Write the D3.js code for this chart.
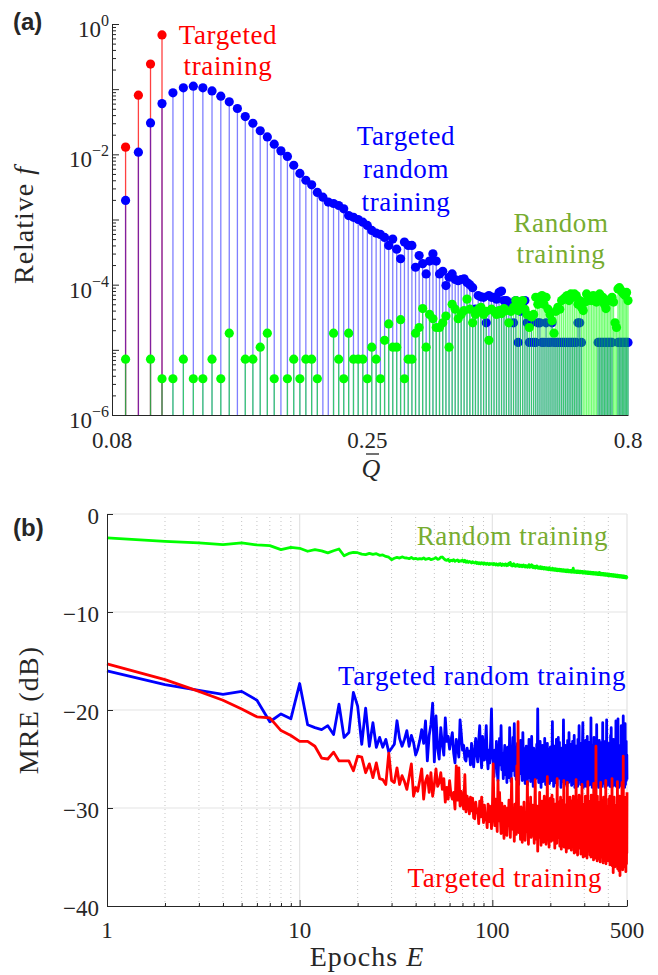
<!DOCTYPE html>
<html>
<head>
<meta charset="utf-8">
<script src="https://cdn.jsdelivr.net/npm/d3@7"></script>
<style>
  body { margin:0; background:#fff; }
  svg text { font-family:"Liberation Serif","Times New Roman",serif; fill:#262626; }
</style>
</head>
<body>
<svg id="chart" width="658" height="975"></svg>
<script>
/* ---------- (a) histogram of Q-bar, three training sets ---------- */
const qBins = [
  0.085,0.090,0.095,0.100,0.105,0.110,0.115,0.120,0.125,0.130,
  0.135,0.140,0.145,0.150,0.155,0.160,0.165,0.170,0.175,0.180,
  0.185,0.190,0.195,0.200,0.205,0.210,0.215,0.220,0.225,0.230,
  0.235,0.240,0.245,0.250,0.255,0.260,0.265,0.270,0.275,0.280,
  0.285,0.290,0.295,0.300,0.305,0.310,0.315,0.320,0.325,0.330,
  0.335,0.340,0.345,0.350,0.355,0.360,0.365,0.370,0.375,0.380,
  0.385,0.390,0.395,0.400,0.405,0.410,0.415,0.420,0.425,0.430,
  0.435,0.440,0.445,0.450,0.455,0.460,0.465,0.470,0.475,0.480,
  0.485,0.490,0.495,0.500,0.505,0.510,0.515,0.520,0.525,0.530,
  0.535,0.540,0.545,0.550,0.555,0.560,0.565,0.570,0.575,0.580,
  0.585,0.590,0.595,0.600,0.605,0.610,0.615,0.620,0.625,0.630,
  0.635,0.640,0.645,0.650,0.655,0.660,0.665,0.670,0.675,0.680,
  0.685,0.690,0.695,0.700,0.705,0.710,0.715,0.720,0.725,0.730,
  0.735,0.740,0.745,0.750,0.755,0.760,0.765,0.770,0.775,0.780,
  0.785,0.790,0.795,0.800
];

// targeted training: only the first four bins are populated
const fTargeted = [0.0129, 0.081, 0.243, 0.68];

const fTargetedRandom = [
  1.96e-3,1.08e-2,3.03e-2,6.0e-2,8.8e-2,0.105,0.111,0.105,0.094,0.078,
  0.064,0.0505,0.038,0.030,0.023,0.0185,0.0143,0.0113,0.0093,0.0068,
  5.1e-3,4.0e-3,3.4e-3,2.6e-3,2.2e-3,1.85e-3,1.76e-3,1.64e-3,1.46e-3,1.15e-3,
  1.08e-3,1.0e-3,9.1e-4,8.1e-4,6.8e-4,6.2e-4,5.9e-4,5.3e-4,4.0e-4,5.0e-4,
  3.5e-4,2.5e-4,4.5e-4,4.0e-4,4.0e-4,1.85e-4,2.8e-4,2.1e-4,1.46e-4,2.3e-4,
  2.97e-4,2.3e-4,1.46e-4,1.6e-4,9.7e-5,1.3e-4,1.46e-4,1.2e-4,1.15e-4,1.2e-4,
  1.23e-4,1.08e-4,1.0e-4,9.0e-5,4.2e-5,6.8e-5,6.5e-5,6.4e-5,2.6e-5,6.8e-5,
  6.4e-5,6.4e-5,6.0e-5,7.6e-5,8.0e-5,5.7e-5,5.7e-5,5.2e-5,5.2e-5,2.6e-5,
  5.7e-5,1.3e-5,3.9e-5,5.2e-5,5.7e-5,2.6e-5,1.3e-5,2.6e-5,1.3e-5,1.3e-5,
  2.6e-5,2.6e-5,1.3e-5,1.3e-5,2.6e-5,1.3e-5,1.3e-5,2.6e-5,1.3e-5,1.3e-5,
  1.3e-5,1.3e-5,1.3e-5,1.3e-5,1.3e-5,1.3e-5,1.3e-5,1.3e-5,1.3e-5,1.3e-5,
  1.3e-5,2.6e-5,2.6e-5,1.3e-5,null,null,null,null,null,null,
  null,null,null,1.3e-5,1.3e-5,1.3e-5,1.3e-5,1.3e-5,1.3e-5,1.3e-5,
  1.3e-5,1.3e-5,1.3e-5,null,null,null,1.3e-5,1.3e-5,1.3e-5,1.3e-5,
  1.3e-5,1.3e-5,1.3e-5,1.3e-5
];

const fRandom = [
  7.2e-6,null,7.2e-6,3.6e-6,3.6e-6,7.2e-6,3.6e-6,3.6e-6,7.2e-6,3.6e-6,
  1.8e-5,null,7.2e-6,7.2e-6,1.1e-5,1.8e-5,3.6e-6,null,3.6e-6,7.2e-6,
  3.6e-6,7.2e-6,7.2e-6,3.6e-6,null,null,1.8e-5,7.2e-6,3.6e-6,1.8e-5,
  7.2e-6,7.2e-6,7.2e-6,3.6e-6,1.1e-5,7.2e-6,3.6e-6,1.4e-5,2.5e-5,1.1e-5,
  1.1e-5,2.9e-5,3.6e-6,7.2e-6,7.2e-6,1.8e-5,2.2e-5,4.3e-5,1.1e-5,3.5e-5,
  3.0e-5,2.2e-5,2.2e-5,2.6e-5,3.3e-5,1.1e-5,5.0e-5,4.2e-5,3.0e-5,3.5e-5,
  4.0e-5,6.0e-5,4.2e-5,2.6e-5,3.5e-5,4.2e-5,4.5e-5,3.5e-5,3.9e-5,1.4e-5,
  4.2e-5,3.9e-5,3.5e-5,4.0e-5,3.6e-5,4.3e-5,4.0e-5,2.6e-5,3.9e-5,4.5e-5,
  5.7e-5,4.0e-5,5.0e-5,5.7e-5,4.2e-5,3.5e-5,2.2e-5,3.2e-5,3.5e-5,6.4e-5,
  5.0e-5,6.4e-5,6.8e-5,5.0e-5,6.4e-5,4.2e-5,3.5e-5,2.8e-5,1.8e-5,3.9e-5,
  4.5e-5,4.2e-5,5.7e-5,6.0e-5,6.4e-5,6.8e-5,5.7e-5,7.2e-5,6.4e-5,7.2e-5,
  6.8e-5,5.0e-5,5.7e-5,4.5e-5,4.0e-5,5.4e-5,7.2e-5,5.7e-5,6.4e-5,5.7e-5,
  6.8e-5,6.0e-5,5.4e-5,6.8e-5,7.2e-5,6.4e-5,6.4e-5,5.0e-5,4.3e-5,5.7e-5,
  5.7e-5,6.0e-5,6.4e-5,5.4e-5,2.6e-5,2.2e-5,8.6e-5,9.0e-5,8.2e-5,7.6e-5,
  7.2e-5,6.8e-5,7.6e-5,5.7e-5
];

const fTickExps  = [0,-2,-4,-6];
const qTickVals  = [0.08, 0.25, 0.8];

/* ---------- (b) MRE (dB) per epoch, epochs 1..500 ---------- */
const mreRandom = [
  -2.44,-2.79,-2.95,-3.13,-2.95,-3.16,-3.23,-3.63,-3.40,-3.50,-3.80,-3.63,-3.77,-3.97,-3.75,-3.57,-4.26,-4.02,-3.92,-3.95,
  -4.10,-4.15,-4.02,-4.12,-4.05,-4.22,-4.18,-4.33,-4.41,-4.66,-4.52,-4.43,-4.50,-4.38,-4.47,-4.49,-4.56,-4.44,-4.58,-4.52,
  -4.61,-4.55,-4.59,-4.48,-4.63,-4.57,-4.52,-4.66,-4.60,-4.54,-4.45,-4.62,-4.58,-4.41,-4.39,-4.55,-4.68,-4.74,-4.62,-4.84,
  -4.71,-4.78,-4.66,-4.82,-4.75,-4.69,-4.86,-4.77,-4.81,-4.70,-4.88,-4.73,-4.92,-4.80,-4.95,-4.84,-4.90,-5.01,-4.87,-4.97,
  -5.00,-4.89,-5.05,-4.94,-5.08,-4.98,-5.10,-4.96,-5.03,-5.12,-4.99,-5.06,-5.14,-5.02,-5.09,-5.16,-5.04,-5.13,-5.07,-5.07,
  -5.18,-5.05,-5.12,-5.20,-5.08,-5.15,-5.23,-5.10,-5.19,-5.06,-5.17,-5.26,-5.11,-5.21,-5.14,-5.24,-5.09,-5.18,-5.27,-5.13,
  -5.22,-5.03,-5.16,-4.94,-5.25,-5.12,-5.30,-5.19,-5.08,-5.28,-5.17,-5.33,-5.21,-5.28,-5.15,-5.31,-5.24,-5.36,-5.20,-5.29,
  -5.34,-5.22,-5.38,-5.27,-5.19,-5.35,-5.30,-5.41,-5.25,-5.37,-5.31,-5.43,-5.28,-5.39,-5.17,-5.44,-5.33,-5.40,-5.29,-5.17,
  -5.42,-5.35,-5.48,-5.31,-5.45,-5.38,-5.52,-5.36,-5.47,-5.29,-5.50,-5.41,-5.55,-5.39,-5.49,-5.44,-5.57,-5.37,-5.52,-5.46,
  -5.58,-5.42,-5.54,-5.49,-5.61,-5.45,-5.56,-5.51,-5.63,-5.47,-5.59,-5.53,-5.66,-5.50,-5.62,-5.55,-5.69,-5.48,-5.64,-5.68,
  -5.58,-5.71,-5.60,-5.66,-5.53,-5.73,-5.62,-5.68,-5.57,-5.75,-5.64,-5.70,-5.59,-5.77,-5.66,-5.72,-5.61,-5.79,-5.67,-5.68,
  -5.74,-5.63,-5.80,-5.69,-5.76,-5.65,-5.82,-5.71,-5.78,-5.66,-5.84,-5.73,-5.79,-5.68,-5.86,-5.74,-5.81,-5.70,-5.87,-5.76,
  -5.83,-5.72,-5.89,-5.77,-5.84,-5.71,-5.90,-5.79,-5.85,-5.74,-5.91,-5.80,-5.87,-5.75,-5.93,-5.82,-5.88,-5.77,-5.94,-5.83,
  -5.89,-5.64,-5.52,-5.78,-5.95,-5.84,-5.90,-5.79,-5.96,-5.85,-5.91,-5.80,-5.97,-5.86,-5.92,-5.81,-5.98,-5.87,-5.93,-5.82,
  -5.99,-5.88,-5.94,-5.83,-6.00,-5.89,-5.95,-5.84,-5.85,-5.90,-5.96,-5.86,-6.02,-5.91,-5.97,-5.87,-6.03,-5.92,-5.98,-5.88,
  -6.04,-5.93,-5.99,-5.89,-6.05,-5.94,-6.00,-5.90,-6.06,-5.95,-6.01,-5.91,-6.07,-5.96,-6.02,-5.92,-6.08,-5.97,-6.03,-5.93,
  -6.09,-5.98,-6.04,-5.94,-6.10,-5.99,-6.05,-5.95,-6.11,-6.00,-6.06,-5.96,-6.12,-6.01,-6.07,-5.97,-6.13,-6.02,-6.08,-5.98,
  -6.14,-6.03,-6.09,-5.99,-6.15,-6.04,-6.10,-6.00,-6.16,-6.05,-6.11,-6.01,-6.17,-6.06,-6.12,-6.02,-6.18,-6.07,-6.13,-5.96,
  -6.19,-6.08,-6.14,-6.04,-6.20,-6.09,-6.15,-6.05,-6.21,-6.10,-6.16,-6.06,-6.22,-6.11,-6.17,-6.07,-6.23,-6.12,-6.18,-6.08,
  -6.24,-6.13,-6.19,-6.09,-6.25,-6.14,-6.20,-6.10,-6.26,-6.15,-6.21,-6.11,-6.27,-6.16,-6.22,-6.12,-6.28,-6.17,-6.23,-6.13,
  -6.29,-6.18,-6.24,-6.14,-6.30,-6.19,-6.25,-6.15,-6.31,-6.20,-6.26,-6.16,-6.32,-6.21,-6.27,-6.17,-6.33,-6.22,-6.28,-6.18,
  -6.34,-6.23,-6.29,-6.19,-6.35,-6.24,-6.30,-6.20,-6.36,-6.25,-6.31,-6.21,-6.37,-6.26,-6.32,-6.22,-6.38,-6.27,-6.33,-6.23,
  -6.39,-6.28,-6.34,-6.24,-6.40,-6.29,-6.35,-6.25,-6.41,-6.30,-6.36,-6.26,-6.42,-6.31,-6.37,-6.27,-6.43,-6.32,-6.38,-6.28,
  -6.44,-6.33,-6.39,-6.29,-6.45,-6.34,-6.40,-6.30,-6.46,-6.35,-6.41,-6.31,-6.47,-6.36,-6.42,-6.32,-6.48,-6.37,-6.43,-6.33,
  -6.49,-6.38,-6.44,-6.34,-6.50,-6.39,-6.45,-6.35,-6.51,-6.40,-6.46,-6.36,-6.52,-6.41,-6.47,-6.37,-6.53,-6.42,-6.48,-6.42
];

const mreTargetedRandom = [
  -16.0,-17.4,-18.0,-18.4,-18.1,-19.0,-21.2,-20.4,-20.9,-17.3,-21.5,-21.8,-22.0,-21.6,-22.5,-19.4,-22.8,-22.3,-18.2,-19.6,
  -23.5,-19.8,-23.7,-21.3,-23.8,-22.8,-23.8,-23.0,-24.3,-23.9,-23.5,-21.1,-22.9,-23.7,-23.0,-22.1,-23.7,-22.6,-23.3,-24.6,
  -24.0,-23.1,-22.0,-23.4,-21.1,-25.2,-22.6,-21.5,-19.3,-25.3,-20.6,-23.9,-25.0,-21.8,-23.5,-24.6,-20.8,-23.2,-22.7,-24.0,
  -23.1,-22.3,-24.4,-25.4,-23.0,-23.7,-24.8,-21.0,-22.4,-24.1,-23.6,-25.0,-25.2,-23.9,-24.7,-24.2,-25.6,-23.4,-24.9,-25.8,
  -24.0,-22.9,-24.5,-25.3,-23.1,-21.6,-24.6,-25.9,-22.7,-24.3,-25.1,-23.5,-21.6,-24.8,-26.0,-24.1,-25.4,-23.0,-19.9,-24.6,
  -25.3,-26.8,-24.1,-25.9,-23.2,-26.4,-27.2,-24.8,-22.9,-25.6,-21.6,-26.1,-24.4,-27.0,-25.2,-23.6,-26.6,-24.9,-27.4,-23.8,
  -25.7,-26.9,-21.8,-25.1,-27.3,-24.5,-26.2,-22.8,-25.8,-21.4,-26.7,-24.3,-27.1,-25.5,-23.4,-26.3,-27.6,-24.7,-25.9,-23.1,
  -26.5,-24.9,-27.2,-22.3,-25.4,-26.8,-24.0,-27.5,-25.0,-23.7,-26.1,-27.7,-24.6,-25.8,-23.0,-26.9,-24.2,-27.3,-25.6,-22.7,
  -26.4,-25.1,-27.8,-23.9,-25.7,-26.6,-24.4,-27.0,-25.3,-23.5,-26.2,-19.9,-25.9,-27.4,-24.1,-26.7,-23.2,-25.5,-27.9,-24.8,
  -26.0,-23.6,-27.3,-25.2,-24.5,-26.8,-22.9,-25.7,-27.6,-24.3,-26.4,-25.0,-23.4,-27.1,-25.8,-24.0,-26.9,-27.5,-25.7,-23.8,
  -26.3,-24.7,-27.2,-25.4,-21.2,-26.6,-24.1,-27.8,-25.0,-23.7,-26.2,-27.4,-24.8,-25.9,-23.0,-26.7,-27.7,-24.4,-25.6,-22.8,
  -26.5,-25.1,-23.3,-27.0,-24.6,-26.1,-27.9,-25.3,-23.9,-26.8,-24.2,-27.3,-25.7,-21.0,-26.4,-27.6,-24.9,-25.5,-23.6,-27.1,
  -25.8,-24.3,-26.9,-27.8,-25.0,-23.1,-26.3,-24.7,-27.4,-22.3,-25.9,-26.6,-24.0,-27.2,-25.4,-23.5,-26.8,-27.7,-24.5,-25.2,
  -23.2,-26.7,-27.5,-24.8,-25.6,-22.6,-26.2,-27.9,-25.1,-24.1,-26.9,-23.7,-27.3,-25.5,-24.4,-26.4,-27.8,-23.0,-25.8,-26.6,
  -24.2,-21.6,-27.1,-25.3,-26.5,-24.7,-27.6,-23.4,-25.9,-26.8,-24.0,-27.4,-25.2,-22.9,-21.3,-26.3,-27.9,-24.6,-25.7,-23.8,
  -26.9,-27.5,-24.3,-25.6,-23.1,-26.6,-27.8,-25.0,-24.5,-26.1,-22.7,-27.2,-25.4,-23.9,-26.7,-27.7,-24.8,-25.3,-23.3,-26.4,
  -27.6,-24.1,-25.8,-26.9,-20.8,-27.3,-25.1,-24.4,-26.5,-27.9,-23.6,-25.7,-26.8,-24.0,-27.4,-25.5,-22.8,-26.2,-27.8,-24.7,
  -25.9,-23.4,-26.7,-27.5,-24.3,-25.2,-26.4,-21.5,-27.1,-25.6,-24.9,-27.7,-23.8,-26.3,-25.0,-27.9,-24.2,-25.8,-23.1,-26.6,
  -27.4,-24.6,-25.4,-26.9,-23.5,-27.6,-25.1,-24.0,-23.3,-26.5,-27.8,-24.8,-25.7,-21.3,-26.2,-27.3,-24.4,-25.9,-26.8,-23.7,
  -27.5,-25.3,-24.1,-26.6,-27.9,-23.2,-25.6,-26.3,-24.7,-27.2,-25.0,-21.0,-26.8,-27.7,-24.5,-25.8,-23.6,-26.4,-27.4,-24.2,
  -25.5,-26.9,-23.4,-27.6,-25.2,-24.3,-26.7,-27.8,-24.9,-25.4,-22.6,-26.1,-27.3,-21.8,-25.7,-26.5,-24.0,-27.9,-25.1,-23.8,
  -26.6,-27.4,-24.6,-25.3,-23.0,-26.8,-27.7,-25.0,-24.4,-26.2,-27.5,-23.5,-25.9,-26.7,-24.1,-27.2,-25.6,-21.1,-26.4,-27.8,
  -24.7,-25.5,-23.3,-26.9,-27.6,-24.2,-25.8,-26.3,-20.9,-27.3,-25.2,-24.8,-26.6,-27.9,-23.9,-25.4,-26.8,-24.5,-27.1,-25.7,
  -23.6,-26.5,-27.7,-24.0,-25.9,-26.2,-21.6,-27.4,-25.3,-24.6,-26.9,-27.8,-23.4,-25.6,-26.4,-24.3,-27.5,-20.6,-25.8,-26.7,
  -24.1,-27.3,-25.5,-23.7,-26.8,-27.9,-24.9,-25.1,-21.4,-26.5,-27.6,-24.4,-25.7,-26.3,-23.2,-27.2,-25.0,-26.9,-24.6,-27.1
];

const mreTargeted = [
  -15.3,-16.9,-18.1,-19.0,-19.9,-20.7,-20.8,-22.1,-22.6,-23.2,-23.2,-23.7,-24.9,-25.0,-24.3,-25.2,-25.2,-25.2,-26.2,-24.7,
  -24.8,-26.4,-25.5,-26.9,-25.4,-27.0,-27.1,-27.6,-24.4,-27.2,-27.4,-25.9,-27.6,-26.7,-27.3,-28.1,-26.8,-25.5,-28.8,-27.9,
  -28.3,-27.2,-26.0,-29.1,-27.3,-26.7,-28.4,-26.4,-28.8,-27.6,-26.0,-27.8,-27.4,-26.4,-28.1,-27.0,-29.4,-27.9,-29.1,-27.2,
  -28.6,-29.1,-28.4,-30.1,-25.7,-29.2,-25.9,-29.8,-28.3,-29.5,-30.1,-26.6,-30.4,-28.8,-29.4,-30.6,-28.9,-30.3,-29.0,-31.0,
  -31.1,-29.4,-30.5,-30.1,-31.6,-29.3,-30.9,-28.9,-30.2,-31.5,-29.7,-31.2,-30.8,-32.0,-29.6,-31.4,-29.8,-30.7,-32.1,-30.3,
  -25.5,-30.2,-31.8,-29.1,-30.8,-32.4,-27.2,-31.3,-28.4,-30.9,-32.6,-29.5,-31.0,-31.5,-33.1,-29.8,-30.6,-32.2,-32.8,-30.0,
  -31.7,-29.2,-31.1,-33.0,-30.4,-27.0,-31.9,-32.2,-30.7,-33.4,-29.6,-31.4,-32.7,-25.7,-30.3,-21.2,-32.5,-31.0,-30.1,-33.2,
  -29.9,-31.6,-33.5,-30.2,-32.8,-29.4,-31.8,-33.3,-30.6,-30.8,-32.4,-27.3,-31.5,-33.7,-30.0,-32.2,-31.2,-28.9,-33.0,-30.5,
  -32.1,-29.7,-32.8,-31.4,-33.6,-30.3,-27.1,-32.5,-31.0,-33.2,-29.8,-34.4,-31.6,-30.1,-33.0,-28.4,-32.3,-31.7,-33.8,-30.4,
  -29.3,-32.6,-31.1,-33.5,-30.0,-28.8,-32.9,-31.3,-29.5,-33.7,-32.8,-30.6,-26.8,-33.1,-31.5,-29.9,-34.0,-30.8,-32.4,-29.0,
  -31.9,-33.4,-30.2,-28.7,-32.6,-31.0,-29.1,-33.3,-30.7,-32.0,-34.1,-29.6,-31.4,-32.2,-30.3,-33.6,-27.0,-31.8,-33.0,-30.1,
  -32.7,-29.4,-30.8,-33.9,-31.2,-28.9,-32.5,-34.2,-30.5,-31.7,-29.2,-33.9,-31.0,-32.9,-27.2,-34.0,-30.9,-32.3,-33.5,-29.7,
  -31.5,-34.5,-30.4,-32.8,-27.4,-33.6,-31.1,-29.8,-34.1,-33.5,-30.2,-32.6,-28.9,-33.8,-31.4,-30.0,-34.3,-29.3,-32.1,-32.2,
  -30.6,-33.7,-28.8,-32.9,-31.3,-34.6,-29.5,-32.4,-30.1,-33.2,-34.5,-27.1,-31.8,-33.4,-30.7,-32.0,-34.8,-29.2,-31.6,-33.9,
  -30.3,-28.7,-34.1,-32.5,-31.0,-33.6,-29.4,-34.7,-30.8,-32.8,-31.5,-27.6,-33.9,-32.2,-30.4,-35.0,-29.6,-33.1,-31.9,-34.3,
  -34.9,-30.5,-32.7,-28.8,-33.8,-31.3,-34.6,-29.9,-32.4,-35.1,-30.2,-33.5,-27.3,-32.9,-34.4,-31.1,-29.7,-33.7,-30.9,-32.2,
  -34.8,-29.3,-32.6,-31.4,-35.0,-28.7,-33.3,-30.6,-34.5,-31.8,-29.1,-34.2,-32.0,-30.4,-35.3,-27.5,-33.6,-31.2,-34.7,-30.0,
  -32.8,-35.1,-29.5,-33.9,-23.7,-31.6,-34.4,-30.3,-32.7,-35.4,-28.8,-33.4,-31.0,-34.9,-29.7,-32.5,-35.2,-30.8,-33.1,-34.9,
  -29.4,-32.9,-35.5,-31.3,-27.4,-34.3,-32.1,-30.5,-35.0,-33.2,-29.2,-34.8,-31.7,-33.5,-30.1,-35.6,-32.4,-28.9,-34.1,-31.5,
  -33.8,-30.6,-35.3,-29.5,-32.7,-34.6,-31.0,-27.2,-35.7,-33.0,-30.3,-34.4,-32.2,-29.8,-35.1,-31.6,-33.9,-35.2,-30.0,-32.8,
  -35.4,-29.1,-33.5,-31.9,-34.9,-30.7,-28.8,-35.8,-32.3,-34.1,-29.6,-33.2,-35.5,-31.4,-30.2,-34.7,-32.6,-27.0,-35.9,-33.0,
  -30.9,-34.5,-32.1,-36.6,-29.4,-33.7,-31.2,-35.3,-28.9,-34.2,-32.8,-30.4,-36.0,-33.3,-29.7,-35.1,-31.5,-34.6,-30.6,-33.5,
  -35.7,-29.8,-32.4,-34.9,-31.1,-27.3,-36.2,-33.1,-30.5,-35.4,-32.0,-29.3,-34.7,-36.4,-31.7,-33.6,-28.8,-35.2,-32.6,-36.9,
  -30.2,-34.4,-31.8,-35.8,-29.5,-33.2,-36.1,-30.9,-34.6,-32.3,-27.4,-35.5,-33.0,-30.6,-36.3,-32.1,-34.9,-24.7,-31.4,-35.6,
  -33.4,-29.9,-36.0,-31.7,-34.1,-28.9,-35.4,-32.5,-30.3,-35.9,-33.6,-29.4,-36.5,-31.9,-34.3,-30.8,-35.7,-32.8,-34.6,-28.4
];

const mreTicks    = [-40,-30,-20,-10,0];
const epochTicks  = [1,10,100,500];
const epochMinor  = [2,3,4,5,6,7,8,9,20,30,40,50,60,70,80,90,200,300,400];

const RED = "#ff0000", BLUE = "#0000ff", GREEN = "#00ff00", OLIVE = "#77ac30", AX = "#262626";

const svg = d3.select("#chart");

/*────────── (a) stem plot ──────────*/
const xa = d3.scaleLog().domain([0.08, 0.8]).range([112, 628]);
const ya = d3.scaleLog().domain([1e-6, 1]).range([415, 24]);
const gA = svg.append("g");

function stems(vals, color, stemOpacity){
  const pts = vals.map((v,i)=>({q:qBins[i], v})).filter(d=>d.v!=null);
  gA.append("g").selectAll("line").data(pts).join("line")
    .attr("x1",d=>xa(d.q)).attr("x2",d=>xa(d.q))
    .attr("y1",ya.range()[0]).attr("y2",d=>ya(d.v))
    .attr("stroke",color).attr("stroke-width",1.3).attr("stroke-opacity",stemOpacity);
  gA.append("g").selectAll("circle").data(pts).join("circle")
    .attr("cx",d=>xa(d.q)).attr("cy",d=>ya(d.v)).attr("r",4.6)
    .attr("fill",color);
}
stems(fTargeted, RED, 0.75);
stems(fTargetedRandom, BLUE, 0.5);
stems(fRandom, GREEN, 0.55);

// axes (a)
const decades = d3.range(-6, 1).map(e => Math.pow(10, e));
const minorA  = decades.slice(0, -1).flatMap(d => d3.range(2, 10).map(k => k * d));
const axA = svg.append("g").attr("transform", `translate(${xa.range()[0]},0)`);
axA.call(d3.axisLeft(ya).tickValues(decades).tickSize(-7).tickSizeOuter(0).tickFormat(""));
axA.append("g").call(d3.axisLeft(ya).tickValues(minorA).tickSize(-4).tickSizeOuter(0).tickFormat(""))
   .select(".domain").remove();
svg.append("g").attr("transform", `translate(0,${ya.range()[0]})`)
   .call(d3.axisBottom(xa).tickValues(qTickVals).tickSize(0).tickSizeOuter(0).tickFormat(""));

fTickExps.forEach(e => {
  const t = svg.append("text").attr("x", xa.range()[0] - 3).attr("y", ya(Math.pow(10,e)) + 13)
    .attr("text-anchor","end").attr("font-size",23);
  t.append("tspan").text("10");
  t.append("tspan").attr("dy",-11).attr("font-size",16).text(e === 0 ? "0" : "\u2212" + (-e));
});
qTickVals.forEach(q => {
  svg.append("text").attr("x", xa(q)).attr("y", 448).attr("text-anchor","middle")
    .attr("font-size",23).text(q);
});

// axis titles (a): Q with an overbar
svg.append("text").attr("x", 371).attr("y", 477).attr("text-anchor","middle")
  .attr("font-size",26).attr("font-style","italic").text("Q");
svg.append("line").attr("x1",366).attr("x2",379).attr("y1",454).attr("y2",454)
  .attr("stroke",AX).attr("stroke-width",1.3);
const yLabA = svg.append("text").attr("transform","translate(33,225) rotate(-90)")
  .attr("text-anchor","middle").attr("font-size",28).attr("letter-spacing",1);
yLabA.append("tspan").text("Relative ");
yLabA.append("tspan").attr("font-style","italic").text("f");

// annotations
function label(lines, x, y0, dy, color, anchor){
  lines.forEach((s,k)=> svg.append("text").attr("x",x).attr("y",y0 + k*dy)
    .attr("text-anchor",anchor).attr("font-size",27).attr("letter-spacing",0.6)
    .style("fill",color).text(s));
}
label(["Targeted","training"], 228, 44, 31, RED, "middle");
label(["Targeted","random","training"], 406, 145, 33, BLUE, "middle");
label(["Random","training"], 561, 232, 31, OLIVE, "middle");

svg.append("text").attr("x",13).attr("y",30).attr("font-size",24).attr("font-weight","bold")
  .style("font-family","'Liberation Sans',Arial,sans-serif").text("(a)");

/*────────── (b) MRE vs epochs ──────────*/
const xb = d3.scaleLog().domain([1, 500]).range([107, 627]);
const yb = d3.scaleLinear().domain([-40, 0]).range([906, 514]);
const gB = svg.append("g");

// grid
gB.append("g").selectAll("line").data(epochMinor).join("line")
  .attr("x1",d=>xb(d)).attr("x2",d=>xb(d)).attr("y1",yb.range()[0]).attr("y2",yb.range()[1])
  .attr("stroke","#c4c4c4").attr("stroke-width",1).attr("stroke-dasharray","1,3");
gB.append("g").selectAll("line").data(epochTicks.slice(1)).join("line")
  .attr("x1",d=>xb(d)).attr("x2",d=>xb(d)).attr("y1",yb.range()[0]).attr("y2",yb.range()[1])
  .attr("stroke","#e3e3e3").attr("stroke-width",1.2);
gB.append("g").selectAll("line").data(mreTicks.slice(1)).join("line")
  .attr("x1",xb.range()[0]).attr("x2",xb.range()[1]).attr("y1",d=>yb(d)).attr("y2",d=>yb(d))
  .attr("stroke","#e3e3e3").attr("stroke-width",1.2);

// curves
const line = d3.line().x((d,i)=>xb(i+1)).y(d=>yb(d));
[[mreRandom, GREEN],[mreTargetedRandom, BLUE],[mreTargeted, RED]].forEach(([s,c]) => {
  gB.append("path").datum(s).attr("d",line).attr("fill","none")
    .attr("stroke",c).attr("stroke-width",2.8).attr("stroke-linejoin","round");
});

// axes (b)
svg.append("g").attr("transform",`translate(${xb.range()[0]},0)`)
  .call(d3.axisLeft(yb).tickValues(mreTicks).tickSize(-6).tickSizeOuter(0).tickFormat(""));
const axB = svg.append("g").attr("transform",`translate(0,${yb.range()[0]})`);
axB.call(d3.axisBottom(xb).tickValues(epochTicks).tickSize(-6).tickSizeOuter(0).tickFormat(""));
axB.append("g").call(d3.axisBottom(xb).tickValues(epochMinor).tickSize(-3).tickSizeOuter(0).tickFormat(""))
   .select(".domain").remove();

mreTicks.forEach(v => {
  svg.append("text").attr("x", xb.range()[0] - 8).attr("y", yb(v) + 10)
    .attr("text-anchor","end").attr("font-size",23).text(v === 0 ? "0" : "\u2212" + (-v));
});
epochTicks.forEach(v => {
  svg.append("text").attr("x", xb(v)).attr("y", 938).attr("text-anchor","middle")
    .attr("font-size",23).text(v);
});

const xLabB = svg.append("text").attr("x", 367).attr("y", 966).attr("text-anchor","middle")
  .attr("font-size",28).attr("letter-spacing",1);
xLabB.append("tspan").text("Epochs ");
xLabB.append("tspan").attr("font-style","italic").text("E");
svg.append("text").attr("transform","translate(38,710) rotate(-90)")
  .attr("text-anchor","middle").attr("font-size",28).attr("letter-spacing",1.2).text("MRE (dB)");

label(["Random training"], 608, 545, 0, OLIVE, "end");
label(["Targeted random training"], 626, 685, 0, BLUE, "end");
label(["Targeted training"], 602, 887, 0, RED, "end");

svg.append("text").attr("x",13).attr("y",536).attr("font-size",24).attr("font-weight","bold")
  .style("font-family","'Liberation Sans',Arial,sans-serif").text("(b)");

svg.selectAll(".domain, .tick line").attr("stroke", AX);
</script>
</body>
</html>
